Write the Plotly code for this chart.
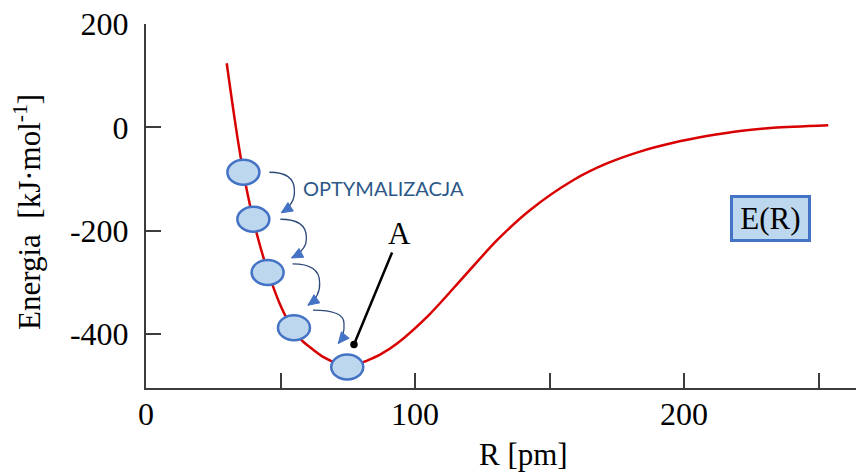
import math
import plotly.graph_objects as go

# ---------------- data ----------------
R_curve = [30.0, 32.0, 34.0, 36.0, 38.0, 40.0, 42.0, 44.0, 46.0, 48.0, 50.0, 52.0,
           55.0, 58.0, 62.0, 66.0, 70.0, 74.0, 78.0, 82.0, 87.0, 93.2, 105.6, 118.0,
           130.4, 142.8, 158.9, 171.3, 183.6, 196.0, 208.4, 220.8, 233.2, 253.6]
E_curve = [124, 50, -20, -82, -135, -182, -222, -258, -290, -319, -345, -367,
           -393, -413, -430, -445, -455, -462, -460, -452, -440, -419, -361, -290,
           -219, -160, -102, -70, -47, -30, -17, -7, -1, 4]

R_steps = [36.2, 39.9, 45.2, 55.0, 74.8]
E_steps = [-87, -178, -281, -388, -464]

point_A = (77.3, -420.4)
label_ER = (232.0, -176.0)
label_opt = (88.1, -117.7)

x_tickvals = [0, 100, 200]
x_ticktext = ["0", "100", "200"]
x_minor_step = 50
y_tickvals = [200, 0, -200, -400]
y_ticktext = ["200", "0", "-200", "-400"]

# ---------------- layout constants ----------------
W, H = 856, 474
ML, MR, MT, MB = 146, 0, 24, 86
X_RANGE = [0, 263.9]
Y_RANGE = [-504.7, 200]
PX_R = (W - ML - MR) / (X_RANGE[1] - X_RANGE[0])
PX_E = (H - MT - MB) / (Y_RANGE[1] - Y_RANGE[0])

SERIF = "Liberation Serif"
AX_COL = "#3c3c3c"
RED = "#D80000"
FILL = "#BDD7EE"
EDGE = "#4472C4"
ARC = "#2E4A7A"


def to_px(r, e):
    return ML + (r - X_RANGE[0]) * PX_R, MT + (Y_RANGE[1] - e) * PX_E


def to_data(px, py):
    return X_RANGE[0] + (px - ML) / PX_R, Y_RANGE[1] - (py - MT) / PX_E


fig = go.Figure()
fig.add_trace(go.Scatter(
    x=R_curve, y=E_curve, mode="lines",
    line=dict(color=RED, width=2.5, shape="spline", smoothing=0.8),
    hoverinfo="skip", showlegend=False))

shapes = []
# ellipses (optimisation steps)
for r, e in zip(R_steps, E_steps):
    shapes.append(dict(type="circle", xref="x", yref="y",
                       xsizemode="pixel", ysizemode="pixel",
                       xanchor=r, yanchor=e, x0=-16, x1=16, y0=-12.5, y1=12.5,
                       fillcolor=FILL, line=dict(color=EDGE, width=2.5)))

# curved arrows between steps (pixel offsets: start & bulge rel. to step i, tip rel. to step i+1)
arc_offsets = [((26, 0), (51, 18), (28, -6.5)),
               ((27, 0), (53, 18), (24, -14.5)),
               ((25, -8.5), (52, 10), (14, -22.5)),
               ((19, -17.5), (50, -4.5), (-9, -23.5))]


def pstr(px, py):
    r, e = to_data(px, py)
    return f"{r:.4f},{e:.4f}"


for i, (so, bo, to) in enumerate(arc_offsets):
    p0 = to_px(R_steps[i], E_steps[i])
    p1 = to_px(R_steps[i + 1], E_steps[i + 1])
    S = (p0[0] + so[0], p0[1] + so[1])
    B = (p0[0] + bo[0], p0[1] + bo[1])
    T = (p1[0] + to[0], p1[1] + to[1])
    C1 = (B[0], S[1])
    C2 = (B[0] + 1, B[1] + 0.6 * (T[1] - B[1]))
    path = f"M{pstr(*S)} Q{pstr(*C1)} {pstr(*B)} Q{pstr(*C2)} {pstr(*T)}"
    shapes.append(dict(type="path", xref="x", yref="y", path=path,
                       line=dict(color=ARC, width=1.3)))
    dx, dy = T[0] - C2[0], T[1] - C2[1]
    n = math.hypot(dx, dy)
    dx, dy = dx / n, dy / n
    bx, by = T[0] - 11 * dx, T[1] - 11 * dy
    nx, ny = -dy, dx
    b1 = (bx + 5 * nx, by + 5 * ny)
    b2 = (bx - 5 * nx, by - 5 * ny)
    head = f"M{pstr(*T)} L{pstr(*b1)} L{pstr(*b2)} Z"
    shapes.append(dict(type="path", xref="x", yref="y", path=head,
                       fillcolor=EDGE, line=dict(color=EDGE, width=1)))

annotations = [
    # point A
    dict(x=point_A[0], y=point_A[1], xref="x", yref="y", text="A",
         showarrow=True, ax=46, ay=-111, arrowhead=6, arrowsize=0.75,
         arrowwidth=2.5, arrowcolor="black", standoff=0,
         font=dict(family=SERIF, size=31, color="black")),
    # E(R) box
    dict(x=label_ER[0], y=label_ER[1], xref="x", yref="y", text="E(R)",
         showarrow=False, bgcolor=FILL, bordercolor=EDGE, borderwidth=3,
         borderpad=0, width=75, height=41,
         font=dict(family=SERIF, size=31, color="black")),
    # OPTYMALIZACJA
    dict(x=label_opt[0], y=label_opt[1], xref="x", yref="y", text="OPTYMALIZACJA",
         showarrow=False, font=dict(family="Lato", size=20, color="#2C5888")),
    # axis titles
    dict(x=(523 - ML) / (W - ML - MR), y=(H - MB - 454) / (H - MT - MB),
         xref="paper", yref="paper", xanchor="center", yanchor="middle",
         text="R [pm]", showarrow=False,
         font=dict(family=SERIF, size=31, color="black")),
    dict(x=(28 - ML) / (W - ML - MR), y=(H - MB - 212) / (H - MT - MB),
         xref="paper", yref="paper", xanchor="center", yanchor="middle",
         text="Energia  [kJ·mol<sup>-1</sup>]",
         textangle=-90, showarrow=False,
         font=dict(family=SERIF, size=31, color="black")),
]

fig.update_layout(
    width=W, height=H,
    margin=dict(l=ML, r=MR, t=MT, b=MB, pad=0),
    paper_bgcolor="white", plot_bgcolor="white",
    showlegend=False,
    shapes=shapes, annotations=annotations,
    xaxis=dict(range=X_RANGE, showgrid=False, zeroline=False,
               showline=True, linecolor=AX_COL, linewidth=2,
               ticks="inside", ticklen=15, tickwidth=2, tickcolor=AX_COL,
               tickvals=x_tickvals, ticktext=x_ticktext,
               minor=dict(ticks="inside", tick0=0, dtick=x_minor_step,
                          ticklen=15, tickwidth=2, tickcolor=AX_COL, showgrid=False),
               ticklabelstandoff=-3,
               tickfont=dict(family=SERIF, size=32, color="black")),
    yaxis=dict(range=Y_RANGE, showgrid=False, zeroline=False,
               showline=True, linecolor=AX_COL, linewidth=2,
               ticks="inside", ticklen=15, tickwidth=2, tickcolor=AX_COL,
               tickvals=y_tickvals, ticktext=y_ticktext,
               ticklabelstandoff=9,
               tickfont=dict(family=SERIF, size=32, color="black")),
)

fig.write_html("out.html")
